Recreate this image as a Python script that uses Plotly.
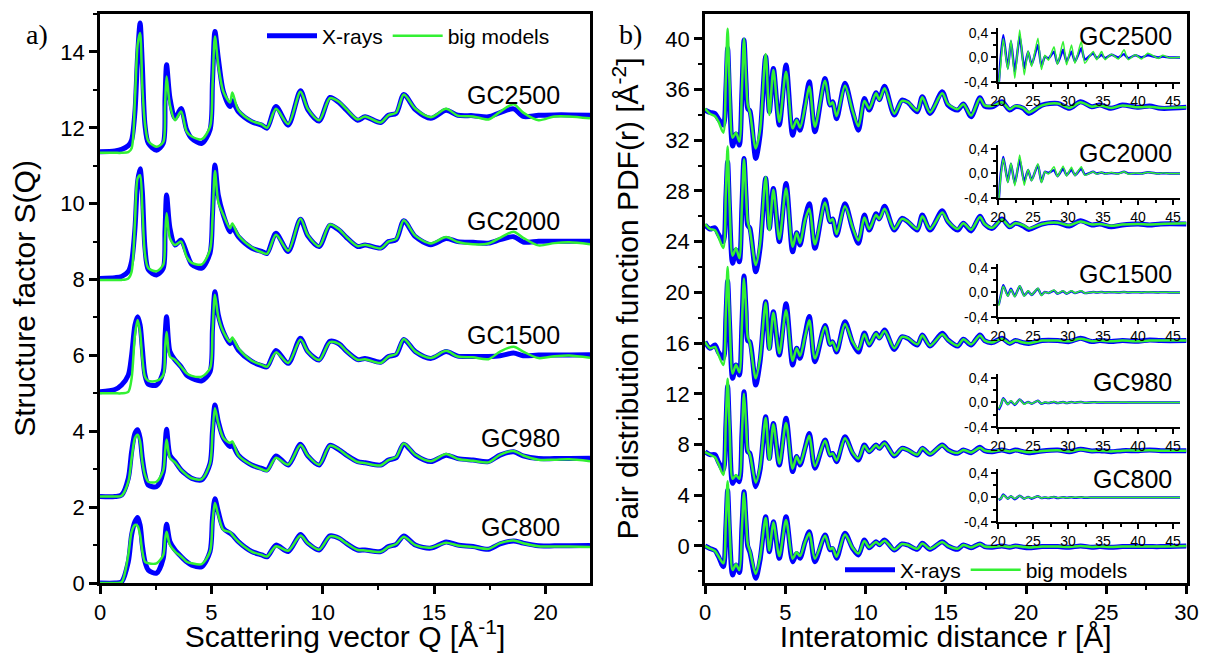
import plotly.graph_objects as go

# ---------------- data: structure factor S(Q) ----------------
q = [0, 0.67, 0.97, 1.27, 1.42, 1.57, 1.69, 1.8, 1.9, 2.02,
     2.17, 2.54, 2.84, 2.92, 2.99, 3.14, 3.37, 3.64, 3.89, 4.12,
     4.57, 4.94, 5.05, 5.16, 5.31, 5.54, 5.84, 5.94, 6.21, 6.81,
     7.26, 7.5, 7.9, 8.45, 9.0, 9.33, 9.84, 10.32, 10.74, 11.05,
     11.57, 11.9, 12.6, 12.95, 13.3, 13.64, 14.16, 14.85, 15.54, 16.06,
     16.75, 17.44, 17.96, 18.57, 19.0, 19.69, 20.4, 21.07, 22.0]

s_gc2500_xray = [11.37, 11.39, 11.43, 11.53, 11.68, 12.43, 13.92, 14.76, 13.66, 12.07,
                 11.59, 11.41, 11.59, 12.78, 13.66, 12.78, 12.25, 12.51, 11.95, 11.72,
                 11.59, 11.95, 13.22, 14.54, 13.84, 12.95, 12.56, 12.71, 12.43, 12.16,
                 12.07, 11.99, 12.56, 12.07, 12.98, 12.48, 12.18, 12.8, 12.66, 12.48,
                 12.2, 12.29, 12.14, 12.33, 12.38, 12.88, 12.48, 12.25, 12.46, 12.33,
                 12.32, 12.29, 12.4, 12.5, 12.3, 12.33, 12.34, 12.34, 12.33]
s_gc2500_model = [11.34, 11.34, 11.34, 11.36, 11.46, 12.78, 14.2, 14.5, 13.1, 12.1,
                  11.65, 11.5, 11.63, 12.6, 13.35, 12.6, 12.2, 12.43, 11.9, 11.77,
                  11.7, 12.03, 13.1, 14.41, 13.66, 12.95, 12.67, 12.93, 12.47, 12.18,
                  12.09, 12.0, 12.5, 12.1, 12.95, 12.5, 12.2, 12.78, 12.68, 12.5,
                  12.22, 12.3, 12.14, 12.33, 12.4, 12.88, 12.5, 12.28, 12.5, 12.32,
                  12.3, 12.22, 12.42, 12.62, 12.4, 12.2, 12.3, 12.3, 12.25]
s_gc2000_xray = [8.03, 8.05, 8.08, 8.21, 8.48, 9.35, 10.58, 10.92, 10.32, 8.83,
                 8.26, 8.12, 8.3, 9.3, 10.23, 9.35, 8.91, 9.04, 8.7, 8.4,
                 8.3, 8.7, 9.7, 11.02, 10.23, 9.7, 9.26, 9.39, 9.13, 8.83,
                 8.74, 8.69, 9.22, 8.74, 9.59, 9.15, 8.87, 9.43, 9.3, 9.12,
                 8.87, 8.91, 8.83, 9.0, 9.05, 9.55, 9.13, 8.92, 9.08, 9.0,
                 8.98, 8.96, 9.05, 9.13, 8.99, 9.01, 9.01, 9.01, 9.01]
s_gc2000_model = [7.99, 7.99, 7.99, 8.03, 8.21, 9.53, 10.67, 10.75, 9.88, 8.66,
                  8.3, 8.22, 8.39, 9.1, 9.75, 9.09, 8.91, 9.0, 8.6, 8.44,
                  8.4, 8.79, 9.6, 10.86, 10.05, 9.7, 9.35, 9.48, 9.17, 8.85,
                  8.72, 8.68, 9.18, 8.76, 9.6, 9.17, 8.88, 9.45, 9.32, 9.13,
                  8.88, 8.92, 8.82, 9.0, 9.07, 9.56, 9.15, 8.95, 9.12, 8.99,
                  8.93, 8.95, 9.1, 9.26, 9.1, 8.9, 8.96, 8.98, 8.93]
s_gc1500_xray = [5.04, 5.1, 5.22, 5.48, 6.01, 6.8, 7.02, 6.8, 6.19, 5.48,
                 5.24, 5.22, 5.57, 6.5, 7.02, 6.1, 5.88, 5.7, 5.48, 5.4,
                 5.33, 5.57, 6.7, 7.68, 7.07, 6.62, 6.31, 6.4, 6.14, 5.84,
                 5.73, 5.7, 6.13, 5.79, 6.45, 6.1, 5.88, 6.37, 6.3, 6.12,
                 5.89, 5.92, 5.82, 5.97, 6.02, 6.42, 6.1, 5.92, 6.1, 5.98,
                 5.97, 5.97, 5.99, 6.06, 5.99, 6.01, 6.01, 6.01, 6.02]
s_gc1500_model = [5.0, 5.0, 5.0, 5.04, 5.4, 6.54, 6.93, 6.62, 5.92, 5.44,
                  5.33, 5.33, 5.48, 6.2, 6.62, 5.97, 5.88, 5.7, 5.53, 5.46,
                  5.44, 5.66, 6.6, 7.6, 7.02, 6.62, 6.36, 6.47, 6.19, 5.86,
                  5.75, 5.7, 6.08, 5.8, 6.42, 6.1, 5.88, 6.35, 6.3, 6.12,
                  5.88, 5.9, 5.8, 5.97, 6.04, 6.43, 6.1, 5.93, 6.12, 5.97,
                  5.95, 5.9, 6.1, 6.23, 6.1, 5.93, 5.98, 6.0, 5.94]
s_gc980_xray = [2.28, 2.28, 2.32, 2.76, 3.46, 3.95, 4.04, 3.82, 3.29, 2.85,
                2.58, 2.54, 2.93, 3.6, 4.05, 3.37, 3.2, 2.98, 2.85, 2.76,
                2.72, 3.15, 4.0, 4.69, 4.26, 3.82, 3.6, 3.64, 3.37, 3.11,
                3.02, 2.98, 3.35, 3.11, 3.66, 3.35, 3.11, 3.63, 3.51, 3.38,
                3.2, 3.17, 3.11, 3.24, 3.3, 3.66, 3.37, 3.2, 3.37, 3.28,
                3.24, 3.2, 3.37, 3.46, 3.35, 3.28, 3.28, 3.28, 3.29]
s_gc980_model = [2.28, 2.28, 2.3, 2.67, 3.29, 3.82, 3.91, 3.73, 3.2, 2.85,
                 2.67, 2.67, 2.97, 3.45, 3.78, 3.3, 3.18, 2.98, 2.85, 2.76,
                 2.74, 3.15, 3.95, 4.61, 4.22, 3.82, 3.69, 3.73, 3.37, 3.11,
                 3.0, 2.96, 3.3, 3.12, 3.64, 3.36, 3.12, 3.62, 3.52, 3.38,
                 3.19, 3.16, 3.1, 3.24, 3.32, 3.68, 3.38, 3.21, 3.4, 3.27,
                 3.22, 3.18, 3.38, 3.48, 3.36, 3.25, 3.25, 3.26, 3.21]
s_gc800_xray = [0.0, 0.0, 0.03, 0.56, 1.27, 1.62, 1.73, 1.53, 1.0, 0.56,
                0.34, 0.26, 0.65, 1.2, 1.55, 1.09, 0.87, 0.7, 0.56, 0.47,
                0.43, 0.83, 1.7, 2.22, 1.88, 1.44, 1.31, 1.27, 1.09, 0.83,
                0.74, 0.69, 1.0, 0.83, 1.28, 1.05, 0.87, 1.24, 1.18, 1.05,
                0.87, 0.87, 0.83, 0.96, 1.02, 1.24, 1.0, 0.92, 1.08, 1.0,
                0.96, 0.89, 1.03, 1.11, 1.05, 0.98, 0.98, 0.98, 0.99]
s_gc800_model = [0.0, 0.0, 0.02, 0.74, 1.35, 1.53, 1.5, 1.27, 0.83, 0.56,
                 0.52, 0.52, 0.74, 1.15, 1.35, 1.0, 0.83, 0.7, 0.56, 0.52,
                 0.5, 0.83, 1.6, 2.11, 1.79, 1.4, 1.34, 1.27, 1.09, 0.83,
                 0.74, 0.7, 0.97, 0.85, 1.25, 1.05, 0.88, 1.23, 1.18, 1.05,
                 0.87, 0.86, 0.82, 0.95, 1.03, 1.22, 1.0, 0.93, 1.06, 0.99,
                 0.95, 0.9, 1.05, 1.12, 1.05, 0.97, 0.96, 0.96, 0.95]

# ---------------- data: pair distribution function PDF(r) ----------------
r = [0, 0.31, 0.62, 0.83, 1.14, 1.3, 1.41, 1.53, 1.72, 1.93,
     2.14, 2.3, 2.43, 2.56, 2.66, 2.8, 3.16, 3.43, 3.78, 4.01,
     4.26, 4.63, 5.05, 5.46, 5.71, 5.92, 6.23, 6.5, 6.85, 7.48,
     7.79, 7.95, 8.2, 8.72, 9.2, 9.56, 9.93, 10.23, 10.66, 10.86,
     11.19, 11.79, 12.27, 12.63, 13.23, 13.54, 14.02, 14.78, 15.14, 15.74,
     16.1, 16.58, 17.13, 17.42, 17.9, 18.5, 18.98, 19.34, 19.82, 20.18,
     21.0, 21.98, 22.7, 23.4, 24.1, 24.6, 25.3, 26.0, 27.0, 27.7,
     28.4, 30.0]

g_gc2500_xray = [34.38, 34.2, 34.1, 33.7, 33.2, 36.0, 39.25, 35.5, 31.55, 32.5,
                 31.62, 35.8, 39.9, 36.5, 34.5, 34.3, 30.57, 32.4, 38.6, 34.25,
                 37.67, 33.2, 37.93, 32.4, 33.6, 32.8, 34.78, 36.62, 32.68, 36.88,
                 34.78, 35.04, 33.7, 36.5, 34.25, 32.8, 35.3, 34.38, 35.75, 35.2,
                 36.27, 33.99, 35.17, 35.0, 34.25, 35.44, 34.12, 35.83, 34.78, 34.38,
                 34.86, 33.86, 35.36, 34.7, 34.65, 35.04, 34.38, 34.65, 34.52, 34.12,
                 34.78, 34.91, 34.52, 35.04, 34.65, 34.78, 34.52, 34.78, 34.6, 34.7,
                 34.52, 34.6]
g_gc2500_model = [34.5, 34.1, 33.9, 33.5, 32.6, 37.0, 40.8, 36.5, 32.2, 32.6,
                  31.9, 36.0, 40.0, 36.8, 34.8, 34.2, 31.36, 32.8, 38.8, 34.0,
                  37.55, 33.46, 37.4, 32.94, 33.6, 33.0, 34.6, 36.25, 33.07, 36.7,
                  34.8, 35.0, 33.9, 36.3, 34.3, 33.1, 35.1, 34.5, 35.7, 35.2,
                  36.1, 34.1, 35.1, 35.0, 34.35, 35.4, 34.2, 35.7, 34.85, 34.45,
                  34.85, 33.95, 35.3, 34.75, 34.7, 35.0, 34.45, 34.7, 34.55, 34.2,
                  34.75, 34.9, 34.55, 35.0, 34.65, 34.75, 34.55, 34.75, 34.6, 34.65,
                  34.55, 34.6]
g_gc2000_xray = [25.32, 25.0, 25.1, 24.6, 24.0, 27.5, 30.31, 26.5, 22.3, 23.35,
                 22.42, 26.8, 30.57, 27.5, 25.3, 25.05, 21.63, 23.48, 29.0, 25.05,
                 28.2, 24.0, 28.6, 23.2, 24.7, 23.74, 25.84, 27.0, 23.48, 27.3,
                 25.58, 25.8, 24.5, 27.0, 25.0, 23.87, 26.1, 24.92, 26.2, 25.8,
                 26.8, 24.92, 25.84, 25.58, 24.92, 26.1, 24.92, 26.45, 25.58, 24.92,
                 25.45, 24.85, 26.0, 25.4, 25.05, 25.8, 25.18, 25.45, 25.24, 24.97,
                 25.4, 25.5, 25.24, 25.65, 25.32, 25.4, 25.18, 25.32, 25.4, 25.32,
                 25.4, 25.4]
g_gc2000_model = [25.4, 25.0, 24.9, 24.4, 23.5, 28.0, 31.5, 27.0, 22.9, 23.5,
                  22.7, 26.8, 30.5, 27.7, 25.6, 24.9, 22.16, 23.8, 29.1, 24.9,
                  28.1, 24.2, 28.2, 23.6, 24.7, 23.9, 25.7, 26.6, 23.8, 27.1,
                  25.6, 25.8, 24.6, 26.8, 25.1, 24.1, 25.9, 25.0, 26.1, 25.8,
                  26.6, 25.0, 25.8, 25.6, 25.0, 26.0, 25.0, 26.3, 25.6, 25.0,
                  25.45, 24.95, 25.95, 25.4, 25.1, 25.75, 25.2, 25.45, 25.3, 25.05,
                  25.4, 25.5, 25.3, 25.6, 25.35, 25.4, 25.25, 25.35, 25.4, 25.35,
                  25.4, 25.45]
g_gc1500_xray = [16.11, 15.6, 15.85, 15.3, 14.8, 18.0, 20.9, 17.5, 13.22, 14.27,
                 13.49, 17.5, 21.3, 18.5, 16.2, 16.1, 12.7, 14.54, 19.27, 15.59,
                 18.48, 15.06, 19.1, 14.27, 15.6, 14.8, 16.64, 18.1, 14.54, 17.4,
                 15.9, 16.1, 15.3, 17.69, 16.0, 15.3, 16.8, 15.85, 16.77, 16.4,
                 17.03, 15.5, 16.5, 16.38, 15.85, 16.64, 15.77, 16.77, 16.25, 15.77,
                 16.3, 15.85, 16.64, 16.2, 16.04, 16.38, 15.98, 16.2, 16.04, 15.98,
                 16.2, 16.2, 16.12, 16.38, 16.12, 16.2, 16.12, 16.2, 16.15, 16.25,
                 16.2, 16.2]
g_gc1500_model = [16.1, 15.6, 15.7, 15.1, 14.27, 18.5, 22.0, 18.0, 13.6, 14.3,
                  13.7, 17.5, 21.1, 18.7, 16.5, 16.0, 13.22, 14.8, 19.2, 15.5,
                  18.4, 15.2, 18.6, 14.6, 15.6, 15.0, 16.5, 17.8, 14.8, 17.3,
                  15.9, 16.1, 15.4, 17.5, 16.1, 15.5, 16.7, 15.9, 16.75, 16.4,
                  16.95, 15.6, 16.5, 16.4, 15.9, 16.6, 15.8, 16.7, 16.25, 15.8,
                  16.3, 15.9, 16.6, 16.2, 16.05, 16.35, 16.0, 16.2, 16.05, 16.0,
                  16.2, 16.2, 16.15, 16.35, 16.15, 16.2, 16.15, 16.2, 16.15, 16.2,
                  16.2, 16.2]
g_gc980_xray = [7.44, 7.2, 7.2, 6.65, 6.0, 9.5, 12.6, 9.0, 4.94, 5.47,
                5.07, 8.8, 12.17, 9.5, 7.44, 7.3, 4.68, 6.0, 10.2, 6.91,
                9.67, 6.39, 10.07, 5.87, 7.05, 6.39, 7.7, 8.88, 6.13, 8.36,
                7.18, 7.3, 6.65, 8.62, 7.3, 6.78, 7.97, 7.44, 7.97, 7.7,
                8.15, 7.1, 7.7, 7.57, 7.18, 7.7, 7.23, 7.97, 7.57, 7.31,
                7.57, 7.36, 7.78, 7.52, 7.44, 7.57, 7.44, 7.57, 7.44, 7.36,
                7.5, 7.57, 7.44, 7.62, 7.5, 7.52, 7.44, 7.52, 7.52, 7.57,
                7.52, 7.52]
g_gc980_model = [7.4, 7.2, 7.0, 6.5, 5.6, 10.0, 13.2, 9.5, 5.3, 5.6,
                 5.3, 8.8, 12.0, 9.6, 7.6, 7.2, 5.0, 6.2, 10.1, 6.8,
                 9.6, 6.5, 9.7, 6.1, 7.05, 6.5, 7.7, 8.7, 6.3, 8.3,
                 7.2, 7.3, 6.75, 8.5, 7.35, 6.9, 7.9, 7.45, 7.95, 7.7,
                 8.1, 7.15, 7.7, 7.57, 7.2, 7.7, 7.25, 7.95, 7.57, 7.33,
                 7.57, 7.38, 7.75, 7.52, 7.45, 7.57, 7.45, 7.55, 7.45, 7.4,
                 7.5, 7.55, 7.45, 7.6, 7.5, 7.52, 7.45, 7.52, 7.52, 7.55,
                 7.52, 7.52]
g_gc800_xray = [0.0, -0.2, -0.35, -0.8, -1.63, 1.5, 4.4, 1.0, -2.29, -1.5,
                -2.1, 1.5, 4.28, 1.8, 0.0, -0.5, -2.55, -1.1, 2.3, -0.45,
                1.92, -0.97, 2.3, -1.24, -0.6, -0.97, 0.3, 1.13, -1.24, 0.87,
                -0.3, -0.2, -0.97, 1.0, -0.2, -0.71, 0.47, -0.14, 0.34, 0.1,
                0.47, -0.32, 0.16, 0.08, -0.26, 0.21, -0.26, 0.34, 0.0, -0.26,
                0.08, -0.14, 0.16, -0.05, -0.1, 0.0, -0.1, 0.0, -0.1, -0.14,
                -0.05, -0.05, -0.1, 0.0, -0.1, -0.05, -0.1, -0.05, -0.05, -0.05,
                -0.05, 0.0]
g_gc800_model = [0.0, -0.2, -0.4, -0.8, -1.37, 2.0, 5.1, 1.5, -1.9, -1.45,
                 -1.9, 1.4, 4.2, 2.0, 0.2, -0.4, -2.2, -0.9, 2.2, -0.35,
                 1.85, -0.8, 2.05, -1.0, -0.5, -0.8, 0.3, 1.0, -1.0, 0.8,
                 -0.25, -0.15, -0.85, 0.9, -0.15, -0.6, 0.4, -0.1, 0.32, 0.1,
                 0.42, -0.28, 0.15, 0.08, -0.22, 0.2, -0.22, 0.32, 0.0, -0.22,
                 0.08, -0.12, 0.15, -0.04, -0.08, 0.0, -0.08, 0.0, -0.08, -0.12,
                 -0.04, -0.04, -0.08, 0.0, -0.08, -0.04, -0.08, -0.04, -0.04, -0.04,
                 -0.04, 0.0]

# ---------------- data: inset PDF tails (r = 20..46) ----------------
r_inset = [20.1, 20.4, 20.76, 21.4, 21.85, 22.4, 23.1, 23.75, 24.3, 24.8,
           25.7, 26.2, 26.7, 27.2, 28.0, 28.5, 29.3, 29.8, 30.5, 31.0,
           31.9, 32.4, 33.6, 34.1, 34.8, 35.3, 36.2, 37.2, 38.0, 38.6,
           39.6, 40.5, 41.4, 42.9, 43.5, 44.5, 46.0]

d_gc2500_xray = [-0.45, 0.0, 0.36, -0.18, 0.26, -0.235, 0.34, -0.18, 0.09, -0.125,
                 0.2, -0.15, 0.01, -0.02, 0.09, -0.1, 0.12, -0.07, 0.09, -0.07,
                 0.146, -0.04, 0.065, -0.016, 0.038, -0.016, 0.038, -0.005, 0.05, -0.016,
                 0.03, -0.005, 0.03, -0.005, 0.01, -0.005, -0.005]
d_gc2500_model = [-0.45, -0.1, 0.3, -0.2, 0.28, -0.345, 0.445, -0.29, 0.1, -0.15,
                  0.31, -0.2, 0.03, -0.05, 0.17, -0.12, 0.255, -0.125, 0.2, -0.1,
                  0.255, -0.1, 0.092, -0.04, 0.092, -0.04, 0.05, -0.03, 0.12, -0.04,
                  0.04, -0.03, 0.065, -0.02, 0.03, -0.01, 0.0]
d_gc2000_xray = [-0.45, 0.0, 0.27, -0.136, 0.16, -0.163, 0.22, -0.136, 0.055, -0.11,
                 0.14, -0.136, 0.027, 0.01, 0.055, -0.044, 0.08, -0.027, 0.065, -0.027,
                 0.08, -0.016, 0.027, 0.0, 0.016, 0.0, 0.01, 0.0, 0.027, 0.0,
                 0.0, 0.0, 0.02, 0.0, 0.005, 0.0, 0.0]
d_gc2000_model = [-0.45, -0.05, 0.245, -0.15, 0.17, -0.2, 0.3, -0.19, 0.065, -0.12,
                  0.16, -0.15, 0.03, -0.01, 0.11, -0.05, 0.12, -0.04, 0.1, -0.035,
                  0.11, -0.03, 0.03, -0.01, 0.02, -0.005, 0.015, -0.005, 0.03, -0.01,
                  0.01, -0.005, 0.02, -0.005, 0.01, 0.0, 0.0]
d_gc1500_xray = [-0.2, -0.05, 0.12, -0.05, 0.06, -0.06, 0.1, -0.05, 0.02, -0.04,
                 0.06, -0.04, 0.01, -0.01, 0.03, -0.02, 0.02, -0.02, 0.02, -0.01,
                 0.02, -0.01, 0.01, 0.0, 0.01, 0.0, 0.005, 0.0, 0.01, 0.0,
                 0.005, 0.0, 0.005, 0.0, 0.005, 0.0, 0.0]
d_gc1500_model = [-0.22, -0.06, 0.1, -0.06, 0.05, -0.07, 0.11, -0.06, 0.03, -0.04,
                  0.07, -0.05, 0.01, -0.01, 0.04, -0.02, 0.03, -0.02, 0.03, -0.01,
                  0.03, -0.01, 0.01, 0.0, 0.01, -0.005, 0.01, 0.0, 0.01, 0.0,
                  0.005, 0.0, 0.01, 0.0, 0.005, 0.0, 0.0]
d_gc980_xray = [-0.12, -0.05, 0.07, -0.03, 0.02, -0.04, 0.05, -0.02, 0.01, -0.02,
                0.03, -0.02, 0.0, -0.01, 0.01, -0.01, 0.01, -0.01, 0.01, -0.005,
                0.01, -0.005, 0.005, 0.0, 0.0, 0.0, 0.0, 0.0, 0.0, 0.0,
                0.0, 0.0, 0.0, 0.0, 0.0, 0.0, 0.0]
d_gc980_model = [-0.1, -0.04, 0.06, -0.03, 0.03, -0.03, 0.05, -0.03, 0.01, -0.02,
                 0.03, -0.02, 0.01, -0.01, 0.015, -0.01, 0.01, -0.01, 0.01, -0.005,
                 0.01, -0.005, 0.005, 0.0, 0.005, 0.0, 0.0, 0.0, 0.005, 0.0,
                 0.0, 0.0, 0.0, 0.0, 0.0, 0.0, 0.0]
d_gc800_xray = [-0.04, -0.02, 0.05, -0.02, 0.02, -0.03, 0.03, -0.02, 0.01, -0.02,
                0.02, -0.01, 0.0, -0.01, 0.01, -0.01, 0.005, -0.005, 0.005, -0.005,
                0.005, -0.005, 0.0, 0.0, 0.0, 0.0, 0.0, 0.0, 0.0, 0.0,
                0.0, 0.0, 0.0, 0.0, 0.0, 0.0, 0.0]
d_gc800_model = [-0.03, -0.02, 0.04, -0.02, 0.02, -0.02, 0.03, -0.02, 0.01, -0.01,
                 0.02, -0.01, 0.005, -0.005, 0.01, -0.005, 0.005, -0.005, 0.005, 0.0,
                 0.005, 0.0, 0.0, 0.0, 0.0, 0.0, 0.0, 0.0, 0.0, 0.0,
                 0.0, 0.0, 0.0, 0.0, 0.0, 0.0, 0.0]

samples = ["GC2500", "GC2000", "GC1500", "GC980", "GC800"]
sq_xray = [s_gc2500_xray, s_gc2000_xray, s_gc1500_xray, s_gc980_xray, s_gc800_xray]
sq_model = [s_gc2500_model, s_gc2000_model, s_gc1500_model, s_gc980_model, s_gc800_model]
pdf_xray = [g_gc2500_xray, g_gc2000_xray, g_gc1500_xray, g_gc980_xray, g_gc800_xray]
pdf_model = [g_gc2500_model, g_gc2000_model, g_gc1500_model, g_gc980_model, g_gc800_model]
tail_xray = [d_gc2500_xray, d_gc2000_xray, d_gc1500_xray, d_gc980_xray, d_gc800_xray]
tail_model = [d_gc2500_model, d_gc2000_model, d_gc1500_model, d_gc980_model, d_gc800_model]

# label anchor values (data units)
label_sq_y = [12.87, 9.53, 6.54, 3.82, 1.48]
label_pdf_y = [40.2, 31.0, 21.45, 12.9, 5.28]

# ---------------- figure ----------------
# the page places the plot 8 px in from the window's top-left corner
OFF = 8
W, H = 1209 - OFF, 653 - OFF


def px(xp):
    return (xp - OFF) / W


def py(yp):
    return 1 - (yp - OFF) / H


BLUE = "#0000FF"
GREEN = "#33F033"
FONT = "Liberation Sans, Arial, sans-serif"
SERIF = "Liberation Serif, Times New Roman, serif"

fig = go.Figure()

for i in range(5):
    fig.add_trace(go.Scatter(x=q, y=sq_xray[i], mode="lines", name="X-rays",
                             line=dict(color=BLUE, width=5, shape="spline", smoothing=0.8),
                             showlegend=(i == 0), legend="legend", xaxis="x", yaxis="y"))
    fig.add_trace(go.Scatter(x=q, y=sq_model[i], mode="lines", name="big models",
                             line=dict(color=GREEN, width=2.5, shape="spline", smoothing=0.8),
                             showlegend=(i == 0), legend="legend", xaxis="x", yaxis="y"))

for i in range(5):
    fig.add_trace(go.Scatter(x=r, y=pdf_xray[i], mode="lines", name="X-rays",
                             line=dict(color=BLUE, width=5, shape="spline", smoothing=0.8),
                             showlegend=(i == 0), legend="legend2", xaxis="x2", yaxis="y2"))
    fig.add_trace(go.Scatter(x=r, y=pdf_model[i], mode="lines", name="big models",
                             line=dict(color=GREEN, width=2.5, shape="spline", smoothing=0.8),
                             showlegend=(i == 0), legend="legend2", xaxis="x2", yaxis="y2"))

for i in range(5):
    ax = str(i + 3)
    fig.add_trace(go.Scatter(x=r_inset, y=tail_xray[i], mode="lines", showlegend=False,
                             line=dict(color=BLUE, width=2.5, shape="spline", smoothing=0.6),
                             xaxis="x" + ax, yaxis="y" + ax))
    fig.add_trace(go.Scatter(x=r_inset, y=tail_model[i], mode="lines", showlegend=False,
                             line=dict(color=GREEN, width=1.5, shape="spline", smoothing=0.6),
                             xaxis="x" + ax, yaxis="y" + ax))

tickfont = dict(family=FONT, size=22, color="black")
titlefont = dict(family=FONT, size=30, color="black")
main = dict(showline=True, linecolor="black", linewidth=2.5, mirror=True,
            ticks="outside", ticklen=8, tickwidth=2.5, tickcolor="black",
            showgrid=False, zeroline=False, tickfont=tickfont, automargin=False)
over = dict(showline=False, ticks="inside", ticklen=8, tickwidth=2.5, tickcolor="black",
            showticklabels=False, showgrid=False, zeroline=False, automargin=False)

ydom = [py(583), py(14)]
xdom_l = [px(100), px(590)]
xdom_r = [px(705), px(1186.5)]

layout = dict(
    width=W, height=H, margin=dict(l=0, r=0, t=0, b=0, autoexpand=False),
    plot_bgcolor="white", paper_bgcolor="white",
    xaxis=dict(domain=xdom_l, range=[0, 22], anchor="y", tick0=0, dtick=5,
               minor=dict(ticks="outside", dtick=2.5, ticklen=4, tickwidth=2, tickcolor="black"),
               title=dict(text="Scattering vector Q [Å<sup>-1</sup>]", font=titlefont, standoff=8),
               **main),
    yaxis=dict(domain=ydom, range=[0, 15], anchor="x", tick0=0, dtick=2,
               minor=dict(ticks="outside", dtick=1, ticklen=4, tickwidth=2, tickcolor="black"),
               title=dict(text="Structure factor S(Q)", font=titlefont, standoff=18),
               **main),
    xaxis2=dict(domain=xdom_r, range=[0, 30], anchor="y2", tick0=0, dtick=5,
                minor=dict(ticks="outside", dtick=2.5, ticklen=4, tickwidth=2, tickcolor="black"),
                title=dict(text="Interatomic distance r [Å]", font=titlefont, standoff=8),
                **main),
    yaxis2=dict(domain=ydom, range=[-2.92, 41.96], anchor="x2", tick0=0, dtick=4,
                minor=dict(ticks="outside", dtick=2, ticklen=4, tickwidth=2, tickcolor="black"),
                title=dict(text="Pair distribution function PDF(r) [Å<sup>-2</sup>]",
                           font=titlefont, standoff=18),
                **main),
    xaxis8=dict(overlaying="x", side="top", anchor="y", range=[0, 22], tick0=0, dtick=5,
                minor=dict(ticks="inside", dtick=2.5, ticklen=4, tickwidth=2, tickcolor="black"),
                **over),
    yaxis8=dict(overlaying="y", side="right", anchor="x", range=[0, 15], tick0=0, dtick=2,
                minor=dict(ticks="inside", dtick=1, ticklen=4, tickwidth=2, tickcolor="black"),
                **over),
    xaxis9=dict(overlaying="x2", side="top", anchor="y2", range=[0, 30], tick0=0, dtick=5,
                minor=dict(ticks="inside", dtick=2.5, ticklen=4, tickwidth=2, tickcolor="black"),
                **over),
    yaxis9=dict(overlaying="y2", side="right", anchor="x2", range=[-2.92, 41.96], tick0=0, dtick=4,
                minor=dict(ticks="inside", dtick=2, ticklen=4, tickwidth=2, tickcolor="black"),
                **over),
    legend=dict(x=px(262), y=py(36), xanchor="left", yanchor="middle", orientation="h",
                font=dict(family=FONT, size=21, color="black"), bgcolor="rgba(0,0,0,0)",
                itemwidth=50, itemclick=False, itemdoubleclick=False),
    legend2=dict(x=px(840), y=py(570), xanchor="left", yanchor="middle", orientation="h",
                 font=dict(family=FONT, size=21, color="black"), bgcolor="rgba(0,0,0,0)",
                 itemwidth=50, itemclick=False, itemdoubleclick=False),
)

inset_bottoms = [81.7, 198, 317, 427, 522]
inset_h = 53.3
ifont = dict(family=FONT, size=14, color="black")
for i, b in enumerate(inset_bottoms):
    n = str(i + 3)
    layout["xaxis" + n] = dict(domain=[px(998), px(1180)], range=[20, 46], anchor="y" + n,
                               tick0=0, dtick=5, showline=True, linecolor="black", linewidth=2,
                               ticks="outside", ticklen=5, tickwidth=2, tickcolor="black",
                               minor=dict(ticks="outside", dtick=2.5, ticklen=3, tickwidth=1.5,
                                          tickcolor="black"),
                               showgrid=False, zeroline=False, tickfont=ifont, automargin=False)
    layout["yaxis" + n] = dict(domain=[py(b), py(b - inset_h)], range=[-0.4, 0.47],
                               anchor="x" + n, tickvals=[-0.4, 0, 0.4],
                               ticktext=["-0,4", "0,0", "0,4"], showline=True,
                               linecolor="black", linewidth=2, ticks="outside", ticklen=5,
                               tickwidth=2, tickcolor="black",
                               minor=dict(ticks="outside", tickvals=[-0.2, 0.2], ticklen=3,
                                          tickwidth=1.5, tickcolor="black"),
                               showgrid=False, zeroline=False, tickfont=ifont, automargin=False)

fig.update_layout(**layout)

annotations = [
    dict(text="a)", x=px(24), y=py(34), xref="paper", yref="paper", showarrow=False,
         xanchor="left", yanchor="middle", font=dict(family=SERIF, size=28, color="black")),
    dict(text="b)", x=px(617), y=py(34), xref="paper", yref="paper", showarrow=False,
         xanchor="left", yanchor="middle", font=dict(family=SERIF, size=28, color="black")),
]
for name, yv in zip(samples, label_sq_y):
    annotations.append(dict(text=name, x=20.75, y=yv, xref="x", yref="y", showarrow=False,
                            xanchor="right", yanchor="middle",
                            font=dict(family=FONT, size=25, color="black")))
for name, yv in zip(samples, label_pdf_y):
    annotations.append(dict(text=name, x=29.2, y=yv, xref="x2", yref="y2", showarrow=False,
                            xanchor="right", yanchor="middle",
                            font=dict(family=FONT, size=25, color="black")))
fig.update_layout(annotations=annotations)

fig.write_html("out.html")
